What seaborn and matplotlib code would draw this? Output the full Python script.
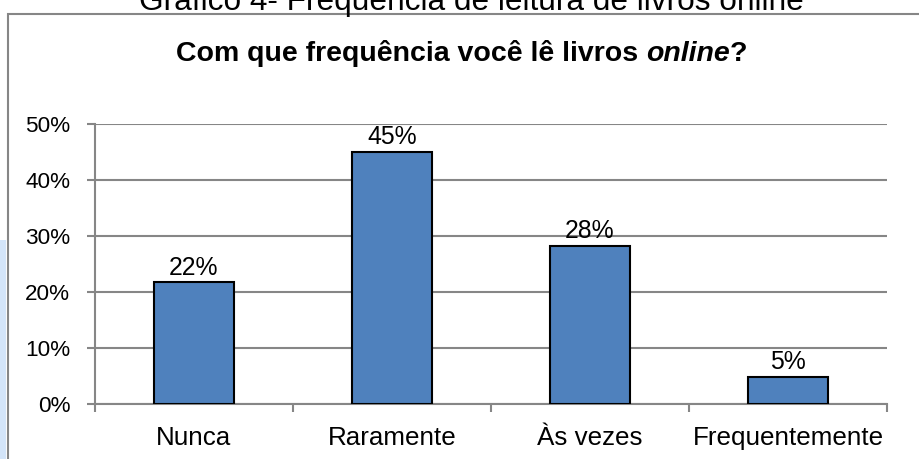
import matplotlib
matplotlib.use("Agg")
import matplotlib.pyplot as plt
import seaborn as sns

# --- Datos ---
categorias = ['Nunca', 'Raramente', 'Às vezes', 'Frequentemente']
valores = [21.7, 45.0, 28.3, 4.8]          # porcentaje
rotulos = ['22%', '45%', '28%', '5%']
ticks_y = [0, 10, 20, 30, 40, 50]

sns.set_theme(style="white")
plt.rcParams['font.family'] = ['Liberation Sans', 'DejaVu Sans']
plt.rcParams['text.color'] = 'black'
plt.rcParams['xtick.labelcolor'] = 'black'
plt.rcParams['ytick.labelcolor'] = 'black'

W, H = 919, 459
fig = plt.figure(figsize=(W / 100, H / 100), dpi=100)
fig.patch.set_facecolor('white')

gris = '#868686'
azul = '#4F81BD'

# marca de agua azul a la izquierda y marco del gráfico
fig.add_artist(plt.Rectangle((0, 0), 6 / W, (459 - 240) / H, transform=fig.transFigure,
                             facecolor='#d3e4f8', edgecolor='none'))
fig.add_artist(plt.Rectangle((8 / W, -0.05), 1.1, 1 - 14 / H + 0.05, transform=fig.transFigure,
                             fill=False, edgecolor=gris, lw=1.5))

# título del documento (cortado arriba, como en la imagen original)
fig.text(139 / W, 1 - 10 / H, 'Gráfico 4- Frequência de leitura de livros online',
         fontsize=22.8, ha='left', va='baseline', color='black')

# ejes
ax = fig.add_axes([95 / W, 1 - 404 / H, 792 / W, 280 / H])
sns.barplot(x=categorias, y=valores, color=azul, edgecolor='black', linewidth=1.5,
            width=0.404, saturation=1, ax=ax, zorder=3)
ax.set_xlim(-0.5, 3.5)
ax.set_ylim(0, 50)
ax.set_yticks(ticks_y)
ax.set_yticklabels([f'{v}%' for v in ticks_y], fontsize=16.2)
ax.set_xlabel('')
ax.set_ylabel('')

ax.yaxis.grid(True, color=gris, linewidth=1.5, zorder=0)
ax.set_axisbelow(True)
for s in ['top', 'right']:
    ax.spines[s].set_visible(False)
for s in ['left', 'bottom']:
    ax.spines[s].set_color(gris)
    ax.spines[s].set_linewidth(1.5)

ax.tick_params(axis='y', which='major', length=5.8, width=1.5, color=gris,
               direction='out', pad=12, left=True)
ax.set_xticks([-0.5, 0.5, 1.5, 2.5, 3.5], minor=True)
ax.tick_params(axis='x', which='minor', length=5.8, width=1.5, color=gris,
               direction='out', bottom=True)
ax.tick_params(axis='x', which='major', length=0, pad=16, labelsize=18.7)

ax.bar_label(ax.containers[0], labels=rotulos, padding=2, fontsize=17.8, color='black')

# título del gráfico con "online" en cursiva
r = fig.canvas.get_renderer()
partes = [('Com que frequência você lê livros ', 'normal'), ('online', 'italic'), ('?', 'normal')]
x = 176 / W
for txt, estilo in partes:
    t = fig.text(x, 1 - 61 / H, txt, fontsize=20.5, fontweight='bold', style=estilo,
                 ha='left', va='baseline', color='black')
    x += t.get_window_extent(renderer=r).width / W

fig.savefig('out.png', dpi=100)
